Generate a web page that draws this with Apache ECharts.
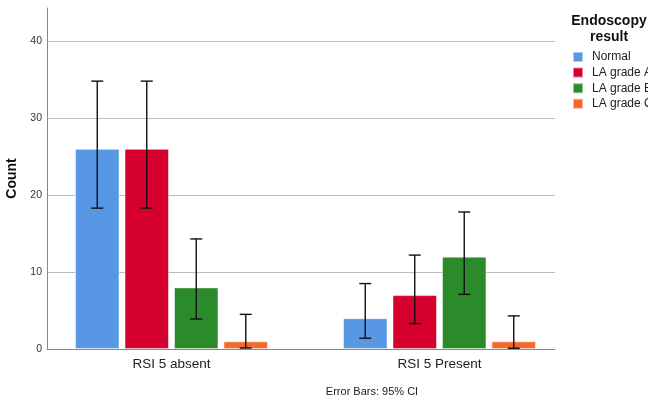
<!DOCTYPE html>
<html>
<head>
<meta charset="utf-8">
<script src="https://cdn.jsdelivr.net/npm/echarts@6/dist/echarts.min.js"></script>
<style>html,body{margin:0;padding:0;background:#fff}#c{width:648px;height:402px}</style>
</head>
<body>
<div id="c"></div>
<script>
const categories = ['RSI 5 absent', 'RSI 5 Present'];
const seriesNames = ['Normal', 'LA grade A', 'LA grade B', 'LA grade C'];
const counts = {
  'Normal':     [26, 4],
  'LA grade A': [26, 7],
  'LA grade B': [8, 12],
  'LA grade C': [1, 1]
};
const ciLow = {
  'Normal':     [18.3, 1.4],
  'LA grade A': [18.3, 3.3],
  'LA grade B': [3.9, 7.1],
  'LA grade C': [0.13, 0.1]
};
const ciHigh = {
  'Normal':     [34.8, 8.5],
  'LA grade A': [34.8, 12.2],
  'LA grade B': [14.3, 17.8],
  'LA grade C': [4.5, 4.3]
};
const colors = ['#5797E4', '#D6002F', '#2B8A2A', '#F26B2A'];

const BAR_W = 44.5, GAP = 5;
const chart = echarts.init(document.getElementById('c'), null, {renderer: 'canvas'});

const series = [];
seriesNames.forEach((name, i) => {
  series.push({
    name: name,
    type: 'bar',
    barWidth: BAR_W,
    barGap: (GAP / BAR_W * 100).toFixed(1) + '%',
    itemStyle: {color: colors[i], borderColor: 'rgba(255,255,255,0.5)', borderWidth: 1},
    data: counts[name].map((v, k) => [k + 1, v])
  });
});
const errData = [];
seriesNames.forEach((name, i) => {
  counts[name].forEach((v, k) => errData.push([k + 1, ciLow[name][k], ciHigh[name][k], i]));
});
series.push({
  type: 'custom',
  silent: true,
  z: 10,
  renderItem: function (params, api) {
    const x = api.value(0), lo = api.value(1), hi = api.value(2), si = api.value(3);
    const off = (si - 1.5) * (BAR_W + GAP);
    const pLo = api.coord([x, lo]), pHi = api.coord([x, hi]);
    const cx = pLo[0] + off, cap = 6;
    const st = {stroke: '#111', lineWidth: 1.4};
    return {type: 'group', children: [
      {type: 'line', shape: {x1: cx, y1: pLo[1], x2: cx, y2: pHi[1]}, style: st},
      {type: 'line', shape: {x1: cx - cap, y1: pLo[1], x2: cx + cap, y2: pLo[1]}, style: st},
      {type: 'line', shape: {x1: cx - cap, y1: pHi[1], x2: cx + cap, y2: pHi[1]}, style: st}
    ]};
  },
  encode: {x: 0, y: [1, 2]},
  data: errData
});

chart.setOption({
  animation: false,
  textStyle: {fontFamily: 'Liberation Sans, Arial, sans-serif'},
  title: [{
    text: 'Endoscopy\nresult',
    left: 609, top: 13, textAlign: 'center', padding: 0,
    textStyle: {fontSize: 14, fontWeight: 'bold', color: '#111', lineHeight: 16, fontFamily: 'Liberation Sans, Arial, sans-serif'}
  }, {
    text: 'Error Bars: 95% CI',
    left: 372, top: 386, textAlign: 'center', padding: 0,
    textStyle: {fontSize: 11, fontWeight: 'normal', color: '#222', fontFamily: 'Liberation Sans, Arial, sans-serif'}
  }],
  legend: {
    orient: 'vertical', left: 572, top: 51, padding: 0,
    itemWidth: 10, itemHeight: 10, itemGap: 3.6,
    icon: 'rect',
    data: seriesNames,
    textStyle: {fontSize: 12, color: '#222', padding: [0, 0, 0, 4]}
  },
  grid: {left: 47, right: 93, top: 8, bottom: 53, outerBoundsMode: 'none', containLabel: false},
  xAxis: {
    type: 'value',
    min: 0.5354, max: 2.431,
    axisLine: {show: true, lineStyle: {color: '#888', width: 1}},
    axisTick: {show: false},
    splitLine: {show: false},
    axisLabel: {
      customValues: [1, 2],
      formatter: v => categories[Math.round(v) - 1] || '',
      fontSize: 13.5, color: '#222', margin: 8
    }
  },
  yAxis: {
    type: 'value',
    min: 0, max: 44.3, interval: 10,
    name: 'Count', nameLocation: 'middle', nameGap: 24, nameRotate: 90,
    nameTextStyle: {fontSize: 14, fontWeight: 'bold', color: '#111'},
    axisLine: {show: true, lineStyle: {color: '#888', width: 1}},
    axisTick: {show: false},
    axisLabel: {fontSize: 10.5, color: '#333', margin: 5, showMaxLabel: false},
    splitLine: {show: true, showMinLine: false, showMaxLine: false, lineStyle: {color: '#bdbdbd', width: 1}}
  },
  series: series
});
</script>
</body>
</html>
